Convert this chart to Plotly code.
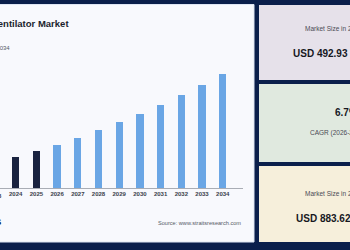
import plotly.graph_objects as go

years = [2023, 2024, 2025, 2026, 2027, 2028, 2029, 2030, 2031, 2032, 2033, 2034]
values = [433, 462, 492.93, 526, 561, 599, 639, 682, 727, 776, 828, 883.62]
tick_labels = [str(y) for y in years]
historic_years = [2023, 2024, 2025]

NAVY_BG = "#0b1f4b"
PANEL = "#f8f9fd"
DARK_BAR = "#1a2340"
LIGHT_BAR = "#6aa6e5"
FONT = "Liberation Sans, Arial, sans-serif"

W, H = 350, 250
L, R, T, B = 0, 107, 60, 62
PW = W - L - R
PH = H - T - B


def px(x):
    return (x - L) / PW


def py(y):
    return (H - B - y) / PH


colors = [DARK_BAR if y in historic_years else LIGHT_BAR for y in years]

fig = go.Figure(go.Bar(x=years, y=values, marker_color=colors, width=0.353,
                       marker_line_width=0, hoverinfo="skip"))

shapes = []
# left panel
shapes.append(dict(type="rect", xref="paper", yref="paper", x0=px(-5), x1=px(254),
                   y0=py(242), y1=py(4.5), fillcolor=PANEL,
                   line=dict(color="#dfe6f3", width=1), layer="below"))
# right cards
cards = [(5, 80, "#e6e1ea"), (84, 162, "#e0e9df"), (166, 242, "#f6efdb")]
for y0, y1, c in cards:
    shapes.append(dict(type="rect", xref="paper", yref="paper", x0=px(259), x1=px(360),
                       y0=py(y1), y1=py(y0), fillcolor=c, line=dict(width=0), layer="below"))

ann = []


def text(x, y, s, size, color, anchor="left", bold=False):
    ann.append(dict(xref="paper", yref="paper", x=px(x), y=py(y), text=s, showarrow=False,
                    xanchor=anchor, yanchor="middle",
                    font=dict(family=FONT, size=size, color=color,
                              weight=700 if bold else 400)))


text(70.5, 23, "Ventilator Market", 9.5, "#1b1f2e", anchor="right", bold=True)
text(12, 48, "2024-2034", 6, "#555a66", anchor="right")
text(-5, 195.5, "2023", 6, "#3a3f4b", anchor="center", bold=True)
text(4, 221.5, "Insights", 10, "#0e2250", anchor="right", bold=True)
text(243, 223, "Source: www.straitsresearch.com", 5.6, "#555a66", anchor="right")

text(303, 28, "Market Size in 2025", 6.5, "#4a4a55")
text(290.5, 53, "USD 492.93 Million", 10, "#16181f", bold=True)
text(332.5, 112, "6.7%", 10, "#16181f", bold=True)
text(308.3, 133, "CAGR (2026-2034)", 6.5, "#4a4a55")
text(303, 193, "Market Size in 2034", 6.5, "#4a4a55")
text(294.3, 218, "USD 883.62 Million", 10, "#16181f", bold=True)

fig.update_layout(
    width=W, height=H,
    margin=dict(l=L, r=R, t=T, b=B, pad=0),
    paper_bgcolor=NAVY_BG,
    plot_bgcolor="rgba(0,0,0,0)",
    shapes=shapes,
    annotations=ann,
    showlegend=False,
    bargap=0,
)
fig.update_xaxes(range=[2023.242, 2034.98], tickmode="array", tickvals=years[1:],
                 ticktext=tick_labels[1:], showgrid=False, zeroline=False,
                 showline=True, linecolor="#a9adb5", linewidth=1, ticks="",
                 tickfont=dict(family=FONT, size=6, color="#3a3f4b", weight=700),
                 fixedrange=True)
fig.update_yaxes(range=[304.5, 304.5 + PH * 5.094], visible=False, fixedrange=True)

fig.write_html("out.html", config={"displayModeBar": False})
